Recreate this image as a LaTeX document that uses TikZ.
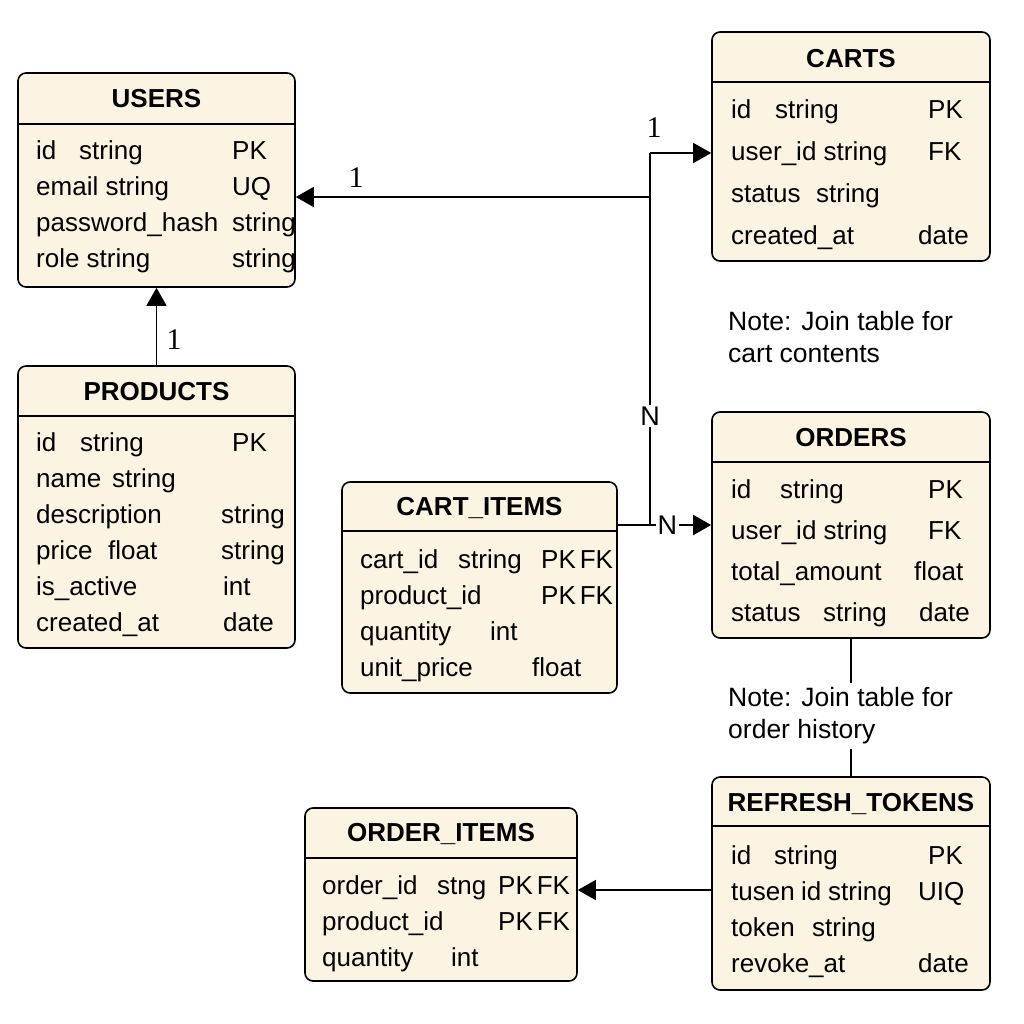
\documentclass[tikz,border=0pt]{standalone}
\usepackage{fontspec}
\setmainfont{Liberation Sans}
\newfontfamily\cardfont{Liberation Serif}
\usetikzlibrary{arrows.meta, positioning}
\definecolor{tablefill}{RGB}{252,244,226}

\begin{document}
\begin{tikzpicture}[
    x=1pt, y=-1pt,
    table/.style={rectangle, rounded corners=8pt, draw=black, line width=1.6pt, fill=tablefill, inner sep=0pt},
    divider/.style={line width=1.3pt},
    title/.style={font=\fontsize{26}{30}\selectfont\bfseries},
    body/.style={anchor=north west, inner sep=0pt, align=left, font=\fontsize{26}{36}\selectfont},
    note/.style={anchor=west, inner sep=4pt, align=left, font=\fontsize{26.5}{32}\selectfont},
    card/.style={inner sep=2pt, font=\fontsize{30}{32}\cardfont},
    mult/.style={fill=white, inner sep=2pt, font=\fontsize{27}{30}\selectfont},
    link/.style={line width=1.6pt},
    arrow/.style={-{Triangle[length=18pt,width=20pt]}, line width=1.6pt}
]

\fill[white] (0,0) rectangle (1024,1024);
\useasboundingbox (0,0) rectangle (1024,1024);

% ==================== USERS ====================
\node[table, minimum width=277pt, minimum height=214pt] (users) at (156.5,180) {};
\draw[divider] (users.west |- 0,124) -- (users.east |- 0,124);
\node[title] (users-title) at (156.5,99) {USERS};
\node[body] (users-body) at (36,140) {
    \makebox[196pt][l]{\makebox[43pt][l]{id}string}PK\\
    \makebox[196pt][l]{email string}UQ\\
    \makebox[196pt][l]{password\_hash}string\\
    \makebox[196pt][l]{role string}string
};

% ==================== PRODUCTS ====================
\node[table, minimum width=277pt, minimum height=282pt] (products) at (156.5,507) {};
\draw[divider] (products.west |- 0,416) -- (products.east |- 0,416);
\node[title] (products-title) at (156.5,392) {PRODUCTS};
\node[body] (products-body) at (36,432) {
    \makebox[196pt][l]{\makebox[44pt][l]{id}string}PK\\
    \makebox[76pt][l]{name}string\\
    \makebox[185pt][l]{description}string\\
    \makebox[185pt][l]{\makebox[72pt][l]{price}float}string\\
    \makebox[187pt][l]{is\_active}int\\
    \makebox[187pt][l]{created\_at}date
};

% ==================== CARTS ====================
\node[table, minimum width=278pt, minimum height=229pt] (carts) at (851,146.5) {};
\draw[divider] (carts.west |- 0,82) -- (carts.east |- 0,82);
\node[title] (carts-title) at (851,59) {CARTS};
\node[body, font=\fontsize{26}{42}\selectfont] (carts-body) at (731,99) {
    \makebox[197pt][l]{\makebox[44pt][l]{id}string}PK\\
    \makebox[197pt][l]{user\_id string}FK\\
    \makebox[85pt][l]{status}string\\
    \makebox[187pt][l]{created\_at}date
};

\node[note] (cart-note) at (724,337) {Note: Join table for\\cart contents};

% ==================== ORDERS ====================
\node[table, minimum width=278pt, minimum height=226pt] (orders) at (851,525) {};
\draw[divider] (orders.west |- 0,462) -- (orders.east |- 0,462);
\node[title] (orders-title) at (851,438) {ORDERS};
\node[body, font=\fontsize{26}{41}\selectfont] (orders-body) at (731,479) {
    \makebox[197pt][l]{\makebox[49pt][l]{id}string}PK\\
    \makebox[197pt][l]{user\_id string}FK\\
    \makebox[183pt][l]{total\_amount}float\\
    \makebox[188pt][l]{\makebox[92pt][l]{status}string}date
};

\node[note] (order-note) at (724,716) {Note: Join table for\\order history};

% ==================== CART_ITEMS ====================
\node[table, minimum width=275pt, minimum height=211pt] (cart-items) at (479.5,587.5) {};
\draw[divider] (cart-items.west |- 0,531) -- (cart-items.east |- 0,531);
\node[title] (cart-items-title) at (479.5,508) {CART\_ITEMS};
\node[body] (cart-items-body) at (360,549) {
    \makebox[181pt][l]{\makebox[98pt][l]{cart\_id}string}PK\hspace{4pt}FK\\
    \makebox[181pt][l]{product\_id}PK\hspace{4pt}FK\\
    \makebox[130pt][l]{quantity}int\\
    \makebox[172pt][l]{unit\_price}float
};

% ==================== REFRESH_TOKENS ====================
\node[table, minimum width=278pt, minimum height=213pt] (refresh) at (851,883.5) {};
\draw[divider] (refresh.west |- 0,826) -- (refresh.east |- 0,826);
\node[title] (refresh-title) at (851,804) {REFRESH\_TOKENS};
\node[body] (refresh-body) at (731,845) {
    \makebox[197pt][l]{\makebox[43pt][l]{id}string}PK\\
    \makebox[187pt][l]{\makebox[70pt][l]{tusen}\makebox[27pt][l]{id}string}UIQ\\
    \makebox[81pt][l]{token}string\\
    \makebox[187pt][l]{revoke\_at}date
};

% ==================== ORDER_ITEMS ====================
\node[table, minimum width=272pt, minimum height=173pt] (order-items) at (441,894.5) {};
\draw[divider] (order-items.west |- 0,858) -- (order-items.east |- 0,858);
\node[title] (order-items-title) at (441,834) {ORDER\_ITEMS};
\node[body] (order-items-body) at (322,875) {
    \makebox[176pt][l]{\makebox[115pt][l]{order\_id}stng}PK\hspace{4pt}FK\\
    \makebox[176pt][l]{product\_id}PK\hspace{4pt}FK\\
    \makebox[129pt][l]{quantity}int
};

% ==================== ARROWS ====================
\coordinate (user-link) at (650,197);
\coordinate (cart-link) at (650,153);
\coordinate (order-link) at (650,525);

% Products to Users
\draw[arrow] (products) -- (users);
\node[card] (one-products) at (174,340) {1};

% Carts / Users / Orders
\draw[link] (order-link) -- (cart-link);
\draw[arrow] (cart-link) -- (carts.west |- cart-link);
\draw[arrow] (user-link) -- (users.east |- user-link);
\node[card] (one-users) at (356,178) {1};
\node[card] (one-carts) at (654,128) {1};
\node[mult] (n-carts) at (650,416) {N};

% Cart items to Orders
\draw[arrow] (cart-items.east |- order-link) -- node[mult, pos=0.53] (n-orders) {N} (orders.west);

% Orders to Refresh tokens
\draw[link] (orders.south) -- (orders.south |- order-note.north);
\draw[link] (orders.south |- order-note.south) -- (refresh.north);

% Refresh tokens to Order items
\draw[arrow] (refresh.west |- 0,890) -- (order-items.east |- 0,890);

\end{tikzpicture}
\end{document}
